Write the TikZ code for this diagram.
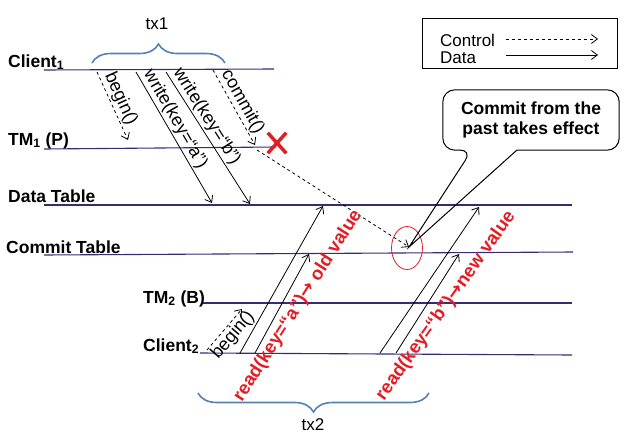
\documentclass[tikz,border=0pt]{standalone}
\usepackage{fontspec}
\setmainfont{Liberation Sans}
\newfontfamily\arrowfont{DejaVu Sans}
\usetikzlibrary{arrows, arrows.meta, shapes.geometric, shapes.misc, decorations.pathreplacing}
\definecolor{lanecolor}{RGB}{58,42,118}
\definecolor{bracecolor}{RGB}{84,128,186}
\definecolor{alertred}{RGB}{228,28,36}
\tikzstyle{lane} = [draw=lanecolor, line width=1.1pt]
\tikzstyle{lanename} = [anchor=base west, inner sep=0pt, font=\fontsize{17.5}{20}\selectfont\bfseries]
\tikzstyle{arrow} = [line width=0.8pt,->,>={Straight Barb[length=6pt, width=9pt]}]
\tikzstyle{dash-arrow} = [arrow, dashed]
\tikzstyle{msg} = [sloped, inner sep=1.5pt, font=\fontsize{18}{20}\selectfont]
\tikzstyle{readmsg} = [inner sep=0pt, text=alertred, font=\fontsize{18.5}{20}\selectfont\bfseries]
\tikzstyle{brace} = [decorate, decoration={brace, amplitude=19pt}, draw=bracecolor, line width=1.6pt]
\tikzstyle{txname} = [font=\fontsize{17}{20}\selectfont]
\tikzstyle{legendbox} = [rectangle, draw=black, line width=1pt, minimum width=195pt, minimum height=50pt]
\tikzstyle{legendtext} = [anchor=base west, inner sep=0pt, font=\fontsize{17}{20}\selectfont]
\tikzstyle{note} = [rectangle, align=center, minimum width=176pt, minimum height=60pt, font=\fontsize{17.5}{20}\selectfont\bfseries]
\tikzstyle{spot} = [ellipse, draw=alertred, line width=0.8pt, minimum width=31pt, minimum height=43pt, inner sep=0pt]
\tikzstyle{failmark} = [cross out, draw=alertred, line width=3.5pt, minimum width=15pt, minimum height=17pt, inner sep=0pt]

\begin{document}
\begin{tikzpicture}[x=1pt, y=-1pt]
	\useasboundingbox (0,0) rectangle (634,439);
	
	\node (client1) [lanename] at (8,67) {Client\textsubscript{1}};
	\node (tm1) [lanename] at (8,145) {TM\textsubscript{1} (P)};
	\node (data) [lanename] at (8,202) {Data Table};
	\node (commit) [lanename] at (6,253) {Commit Table};
	\node (tm2) [lanename] at (143,303) {TM\textsubscript{2} (B)};
	\node (client2) [lanename] at (143,351) {Client\textsubscript{2}};
	
	\coordinate (client1-l) at (44,70);
	\coordinate (client1-r) at (274,69);
	\coordinate (tm1-l) at (44,149);
	\coordinate (tm1-r) at (276,147);
	\coordinate (data-l) at (44,205);
	\coordinate (data-r) at (572,205);
	\coordinate (commit-l) at (44,255);
	\coordinate (commit-r) at (573,252);
	\coordinate (tm2-l) at (203,303);
	\coordinate (tm2-r) at (572,303);
	\coordinate (client2-l) at (200,353);
	\coordinate (client2-r) at (572,355);
	
	\draw [lane] (client1-l) -- (client1-r);
	\draw [lane] (tm1-l) -- (tm1-r);
	\draw [lane] (data-l) -- (data-r);
	\draw [lane] (commit-l) -- (commit-r);
	\draw [lane] (tm2-l) -- (tm2-r);
	\draw [lane] (client2-l) -- (client2-r);
	
	\coordinate (tx1-a) at (92,63);
	\coordinate (tx1-b) at (225,63);
	\coordinate (tx2-a) at (429,393);
	\coordinate (tx2-b) at (198,393);
	\draw [brace] (tx1-a) -- (tx1-b);
	\draw [brace] (tx2-a) -- (tx2-b);
	\node (tx1) [txname] at (157,24) {tx1};
	\node (tx2) [txname] at (313,425) {tx2};
	
	\coordinate (begin1-s) at (97,72);
	\coordinate (begin1-e) at (128,140);
	\coordinate (writea-s) at (136,72);
	\coordinate (writea-e) at (212,203);
	\coordinate (writeb-s) at (166,72);
	\coordinate (writeb-e) at (250,204);
	\coordinate (commit1-s) at (213,70);
	\coordinate (commit1-e) at (255,145);
	\coordinate (late-s) at (257,150);
	\coordinate (effect) at (409,247);
	
	\draw [dash-arrow] (begin1-s) -- node[msg, above, pos=0.46]{begin()} (begin1-e);
	\draw [arrow] (writea-s) -- node[msg, above, pos=0.40]{write(key=“a”)} (writea-e);
	\draw [arrow] (writeb-s) -- node[msg, above, pos=0.38]{write(key=“b”)} (writeb-e);
	\draw [dash-arrow] (commit1-s) -- node[msg, above, pos=0.49]{commit()} (commit1-e);
	\node (fail) [failmark] at (277,143) {};
	\draw [dash-arrow] (late-s) -- (effect);
	
	\coordinate (begin2-s) at (207,350);
	\coordinate (begin2-e) at (242,309);
	\coordinate (reada1-s) at (240,353);
	\coordinate (reada1-e) at (323,206);
	\coordinate (reada2-s) at (255,353);
	\coordinate (reada2-e) at (309,254);
	\coordinate (readb1-s) at (380,353);
	\coordinate (readb1-e) at (479,207);
	\coordinate (readb2-s) at (396,353);
	\coordinate (readb2-e) at (459,254);
	
	\draw [dash-arrow] (begin2-s) -- node[msg, below, pos=0.52]{begin()} (begin2-e);
	\draw [arrow] (reada1-s) -- (reada1-e);
	\draw [arrow] (reada2-s) -- (reada2-e);
	\draw [arrow] (readb1-s) -- (readb1-e);
	\draw [arrow] (readb2-s) -- (readb2-e);
	\node (reada) [readmsg, rotate=57.5] at (298,306) {read(key=“a”){\arrowfont\bfseries →} old value};
	\node (readb) [readmsg, rotate=54.6] at (446,306) {read(key=“b”){\arrowfont\bfseries →}new value};
	
	\node (spot) [spot] at (407,248) {};
	
	\node (note) [note] at (531,120) {Commit from the\\past takes effect};
	\coordinate (note-p1) at (472,150);
	\coordinate (note-p2) at (517,150);
	\draw [line width=1pt] (note-p2) [rounded corners=12pt] -- (note.south east) -- (note.north east) -- (note.north west) -- (note.south west) -- (note-p1) [sharp corners] -- (effect) -- (note-p2);
	
	\node (legend) [legendbox] at (519.5,43) {};
	\node (ctrl) [legendtext] at (440,46) {Control};
	\node (dat) [legendtext] at (440,63) {Data};
	\coordinate (ctrl-s) at (506,39);
	\coordinate (ctrl-e) at (598,39);
	\coordinate (dat-s) at (506,55);
	\coordinate (dat-e) at (598,55);
	\draw [dash-arrow] (ctrl-s) -- (ctrl-e);
	\draw [arrow] (dat-s) -- (dat-e);
	
\end{tikzpicture}
\end{document}
